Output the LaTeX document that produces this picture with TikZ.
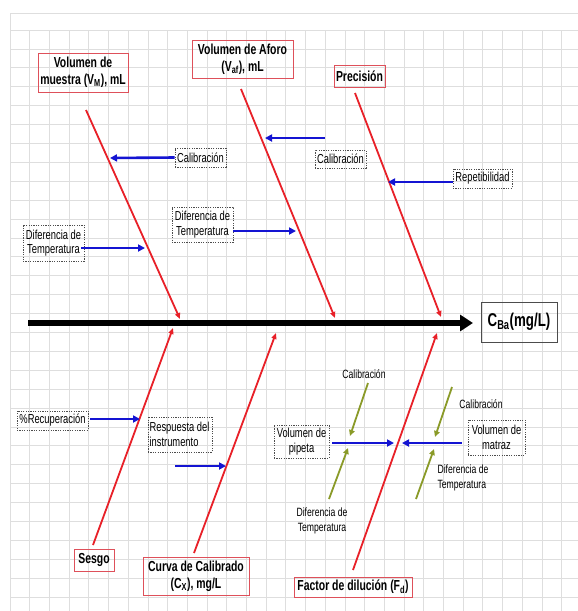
\documentclass[tikz,border=0pt]{standalone}
\usepackage{fontspec}
\setmainfont{Liberation Sans}[FakeStretch=0.72]
\usetikzlibrary{arrows.meta}
\definecolor{ribred}{RGB}{232,32,40}
\definecolor{boxred}{RGB}{222,80,90}
\definecolor{arrblue}{RGB}{20,20,210}
\definecolor{olivegreen}{RGB}{138,154,40}
\definecolor{gridgray}{RGB}{222,222,222}
\begin{document}
\begin{tikzpicture}[x=1pt,y=-1pt,
 title/.style={draw=boxred,line width=0.9pt,inner sep=0pt,align=center,font=\fontsize{14.5}{17}\selectfont\bfseries},
 cause/.style={draw=black!70,dash pattern=on 1.2pt off 1.2pt,line width=0.8pt,inner sep=0pt,align=center,font=\fontsize{13}{14.5}\selectfont},
 lbl/.style={inner sep=0pt,align=center,font=\fontsize{12}{14.5}\selectfont},
 rib/.style={draw=ribred,line width=1.8pt,-{Triangle[length=6pt,width=5pt]}},
 blueline/.style={draw=arrblue,line width=2.6pt,-{Triangle[length=7pt,width=7pt]}},
 oliveline/.style={draw=olivegreen,line width=1.8pt,-{Triangle[length=6pt,width=5.5pt]}},
 gridline/.style={draw=gridgray,line width=0.8pt},
]
\useasboundingbox (0,0) rectangle (578,611);
\fill[white] (0,0) rectangle (578,611);
% grid
\foreach \i in {0,...,28} \draw[gridline] ({10+19.7*\i},30) -- ({10+19.7*\i},611);
\foreach \j in {0,...,30} \draw[gridline] (10,{30+18.9*\j}) -- (578,{30+18.9*\j});
\draw[gridline] (10,13) -- (578,13);
\draw[gridline] (10,13) -- (10,30);

% effect and spine
\node[draw=black!70,line width=0.9pt,minimum width=76pt,minimum height=40pt,inner sep=0pt,font=\fontsize{18.5}{20}\selectfont\bfseries] (E) at (519,322) {C\textsubscript{Ba}(mg/L)};
\coordinate (s0) at (28,323);
\coordinate (s1) at (473,323);
\draw[line width=6pt,-{Triangle[length=13pt,width=16pt]}] (s0) -- (s1);

% main category boxes
\node[title,minimum width=90pt,minimum height=39pt] (B1) at (83,72.5) {Volumen de\\muestra (V\textsubscript{M}), mL};
\node[title,minimum width=101pt,minimum height=38pt] (B2) at (242.5,59) {Volumen de Aforo\\(V\textsubscript{af}), mL};
\node[title,minimum width=51pt,minimum height=22pt] (B3) at (359.5,76) {Precisión};
\node[title,minimum width=40pt,minimum height=22pt] (B4) at (94,560) {Sesgo};
\node[title,minimum width=106pt,minimum height=38pt] (B5) at (196,576) {Curva de Calibrado\\(C\textsubscript{X}), mg/L};
\node[title,minimum width=118pt,minimum height=20pt] (B6) at (353,587) {Factor de dilución (F\textsubscript{d})};

% ribs
\coordinate (r1a) at (86,110);  \coordinate (r1b) at (180,319);
\coordinate (r2a) at (241,89);  \coordinate (r2b) at (335,318);
\coordinate (r3a) at (355,93);  \coordinate (r3b) at (441,317);
\coordinate (r4a) at (93,545);  \coordinate (r4b) at (173,328);
\coordinate (r5a) at (194,553); \coordinate (r5b) at (276,333);
\coordinate (r6a) at (353,570); \coordinate (r6b) at (437,333);
\draw[rib] (r1a) -- (r1b);
\draw[rib] (r2a) -- (r2b);
\draw[rib] (r3a) -- (r3b);
\draw[rib] (r4a) -- (r4b);
\draw[rib] (r5a) -- (r5b);
\draw[rib] (r6a) -- (r6b);

% cause boxes
\node[cause,minimum width=51pt,minimum height=19pt] (D1) at (200.5,157.5) {Calibración};
\node[cause,minimum width=51pt,minimum height=18pt] (D2) at (340.5,159) {Calibración};
\node[cause,minimum width=59pt,minimum height=19pt] (D3) at (482.5,178.5) {Repetibilidad};
\node[cause,minimum width=61pt,minimum height=36pt] (D4) at (53.5,243) {Diferencia de\\Temperatura};
\node[cause,minimum width=61pt,minimum height=35pt] (D5) at (202.5,224.5) {Diferencia de\\Temperatura};
\node[cause,minimum width=71pt,minimum height=19pt] (D6) at (52.5,420.5) {\%Recuperación};
\node[cause,minimum width=64pt,minimum height=35pt,align=left] (D7) at (180,434.5) {Respuesta del\\instrumento\hphantom{ xx}};
\node[cause,minimum width=55pt,minimum height=33pt] (D8) at (301.5,441.5) {Volumen de\\pipeta};
\node[cause,minimum width=57pt,minimum height=35pt] (D9) at (496.5,437.5) {Volumen de\\matraz};

% blue arrows
\coordinate (a1) at (110,158);
\coordinate (a2s) at (325,138); \coordinate (a2) at (265,138);
\coordinate (a3) at (388,182);
\coordinate (a4) at (145,248);
\coordinate (a5) at (296,231);
\coordinate (a6) at (140,419);
\coordinate (a7s) at (175,466); \coordinate (a7) at (226,466);
\coordinate (a8) at (394,443);
\coordinate (a9) at (402,443);
\draw[blueline] (D1.west) -- (a1);
\draw[blueline] (a2s) -- (a2);
\draw[blueline] (D3.west |- a3) -- (a3);
\draw[blueline] ([xshift=-3pt]D4.east |- a4) -- (a4);
\draw[blueline] (D5.east |- a5) -- (a5);
\draw[blueline] ([xshift=2pt]D6.east |- a6) -- (a6);
\draw[blueline] (a7s) -- (a7);
\draw[blueline] ([xshift=3pt]D8.east |- a8) -- (a8);
\draw[blueline] ([xshift=-6pt]D9.west |- a9) -- (a9);

% olive sub-cause labels and arrows
\node[lbl] (L1) at (364,374) {Calibración};
\node[lbl] (L2) at (322,521) {Diferencia de\\Temperatura};
\node[lbl] (L3) at (481,404) {Calibración};
\node[lbl,align=left] (L4) at (463,478) {Diferencia de\\Temperatura};
\coordinate (o1s) at (368,383); \coordinate (o1) at (350,436);
\coordinate (o2s) at (329,499); \coordinate (o2) at (348,448);
\coordinate (o3s) at (452,387); \coordinate (o3) at (435,437);
\coordinate (o4s) at (416,499); \coordinate (o4) at (434,449);
\draw[oliveline] (o1s) -- (o1);
\draw[oliveline] (o2s) -- (o2);
\draw[oliveline] (o3s) -- (o3);
\draw[oliveline] (o4s) -- (o4);
\end{tikzpicture}
\end{document}
